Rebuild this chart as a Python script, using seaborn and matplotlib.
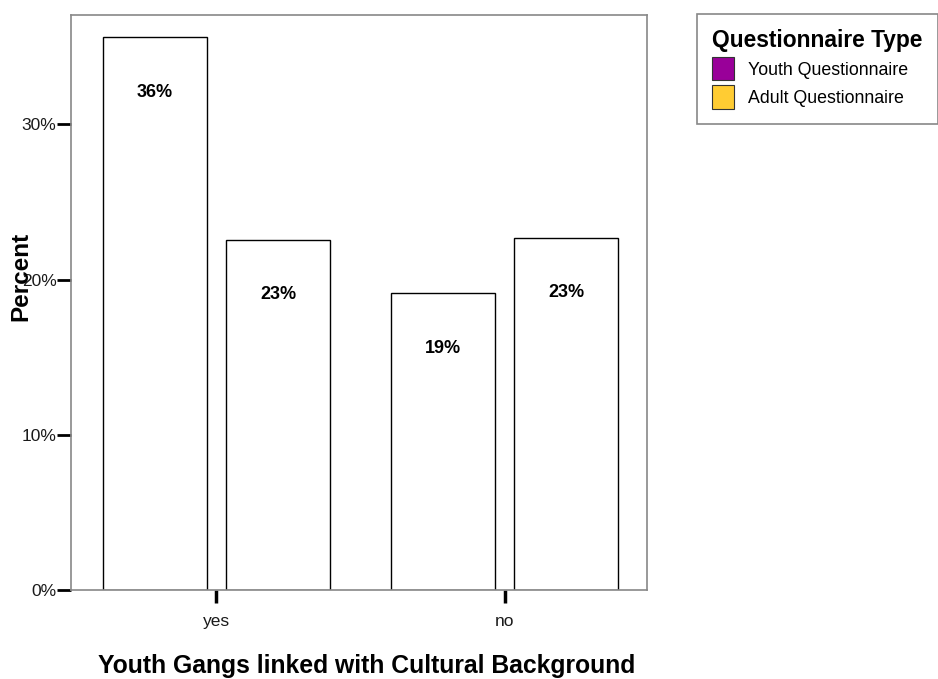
import matplotlib
matplotlib.use("Agg")
import matplotlib.pyplot as plt
from matplotlib.patches import Patch
import seaborn as sns
import pandas as pd

# Percent of respondents by answer and questionnaire type
answers = ["yes", "no"]
questionnaire_types = ["Youth Questionnaire", "Adult Questionnaire"]
youth_pct = [35.6, 19.1]
adult_pct = [22.55, 22.7]
type_colors = ["#990099", "#FFCC33"]
y_ticks = [0, 10, 20, 30]
y_tick_labels = ["0%", "10%", "20%", "30%"]

df = pd.DataFrame({
    "answer": answers * 2,
    "qtype": [questionnaire_types[0]] * 2 + [questionnaire_types[1]] * 2,
    "pct": youth_pct + adult_pct,
})

sns.set_theme(style="white")
plt.rcParams["font.family"] = ["Liberation Sans", "DejaVu Sans"]

W, H = 938, 679
fig = plt.figure(figsize=(W / 100, H / 100), dpi=100)
ax = fig.add_axes([71 / W, 1 - 590 / H, (646.7 - 71) / W, (590 - 15) / H])

sns.barplot(
    data=df, x="answer", y="pct", hue="qtype",
    order=answers, hue_order=questionnaire_types,
    palette={t: "white" for t in questionnaire_types},
    edgecolor="black", linewidth=1.0,
    width=0.856, gap=0.157, legend=False, errorbar=None, ax=ax,
)

# value labels inside each bar, below its top
for container in ax.containers:
    for bar in container:
        h = bar.get_height()
        ax.annotate(f"{h:.0f}%", (bar.get_x() + bar.get_width() / 2, h),
                    xytext=(0, -39.5), textcoords="offset points",
                    ha="center", va="center", fontsize=13,
                    fontweight="bold", color="black")

ax.set_xlim(-0.504, 1.493)
ax.set_ylim(0, 37.04)
ax.set_yticks(y_ticks)
ax.set_yticklabels(y_tick_labels, fontsize=12.5)
ax.tick_params(axis="y", direction="out", length=10, width=2.0,
               color="black", pad=0.5, left=True)
ax.tick_params(axis="x", direction="out", length=9, width=2.5,
               color="black", pad=8, labelsize=12.5, bottom=True)
for t in ax.get_xticklabels() + ax.get_yticklabels():
    t.set_color("#1a1a1a")

for sp in ax.spines.values():
    sp.set_color("#888888")
    sp.set_linewidth(1.2)

ax.set_ylabel("")
ax.set_xlabel("Youth Gangs linked with Cultural Background",
              fontsize=17.8, fontweight="bold", color="black")
ax.xaxis.set_label_coords(0.513, -0.112)

fig.text(21 / W, 1 - 276 / H, "Percent", rotation=90, ha="center",
         va="center", fontsize=17.5, fontweight="bold", color="black")

handles = [Patch(facecolor=c, edgecolor="#333333", linewidth=0.8)
           for c in type_colors]
leg = fig.legend(
    handles, questionnaire_types, title="Questionnaire Type",
    loc="upper left", bbox_to_anchor=(697 / W, 1 - 14 / H),
    bbox_transform=fig.transFigure, borderaxespad=0,
    fontsize=12.8, title_fontsize=16.4, frameon=True, fancybox=False,
    edgecolor="#888888", framealpha=1, alignment="left",
    handlelength=1.24, handleheight=1.64, handletextpad=0.8,
    labelspacing=0.28, borderpad=0.85, labelcolor="black",
)
leg.get_title().set_fontweight("bold")
leg.get_title().set_color("black")
leg.get_frame().set_linewidth(1.2)

fig.savefig("out.png", dpi=100)
